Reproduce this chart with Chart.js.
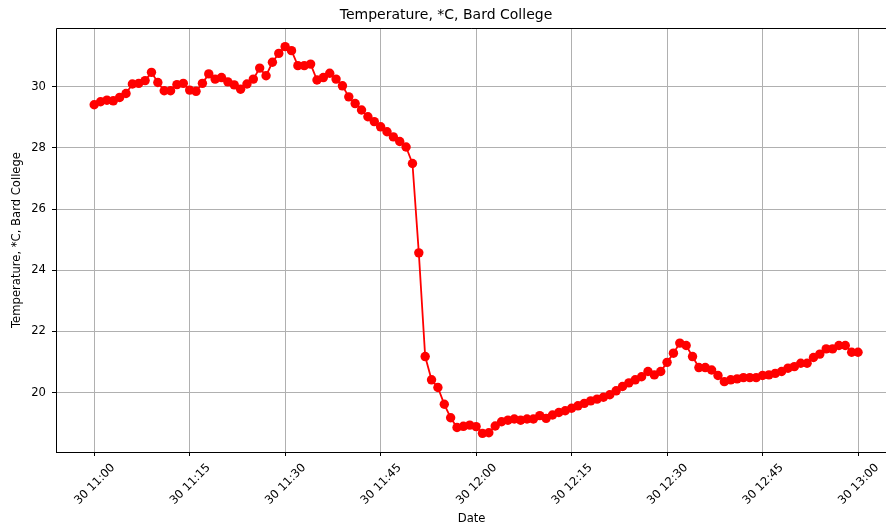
<!DOCTYPE html>
<html>
<head>
<meta charset="utf-8">
<script src="https://cdn.jsdelivr.net/npm/chart.js@4/dist/chart.umd.min.js"></script>
<style>
    html, body { margin: 0; padding: 0; background: #fff; overflow: hidden; }
    #wrap { width: 892px; height: 531px; position: relative; }
</style>
</head>
<body>
<div id="wrap"><canvas id="tempChart"></canvas></div>
<script>
// minutes after 11:00 on day 30
const minutes = [
    0, 1, 2, 3, 4, 5, 6, 7, 8, 9, 10, 11, 12, 13, 14, 15, 16, 17, 18, 19,
    20, 21, 22, 23, 24, 25, 26, 27, 28, 29, 30, 31, 32, 33, 34, 35, 36, 37, 38, 39,
    40, 41, 42, 43, 44, 45, 46, 47, 48, 49, 50, 51, 52, 53, 54, 55, 56, 57, 58, 59,
    60, 61, 62, 63, 64, 65, 66, 67, 68, 69, 70, 71, 72, 73, 74, 75, 76, 77, 78, 79,
    80, 81, 82, 83, 84, 85, 86, 87, 88, 89, 90, 91, 92, 93, 94, 95, 96, 97, 98, 99,
    100, 101, 102, 103, 104, 105, 106, 107, 108, 109, 110, 111, 112, 113, 114, 115, 116, 117, 118, 119,
    120
];

// temperature readings, *C
const temps = [
    29.41, 29.51, 29.56, 29.54, 29.65, 29.78, 30.09, 30.11, 30.20, 30.47,
    30.14, 29.87, 29.87, 30.07, 30.11, 29.89, 29.85, 30.11, 30.42, 30.25,
    30.30, 30.16, 30.06, 29.92, 30.09, 30.25, 30.61, 30.36, 30.80, 31.09,
    31.31, 31.18, 30.69, 30.69, 30.74, 30.22, 30.30, 30.44, 30.25, 30.03,
    29.67, 29.45, 29.24, 29.02, 28.86, 28.69, 28.53, 28.36, 28.21, 28.03,
    27.49, 24.57, 21.18, 20.42, 20.17, 19.62, 19.18, 18.86, 18.90, 18.94,
    18.89, 18.67, 18.69, 18.91, 19.05, 19.10, 19.14, 19.10, 19.14, 19.14,
    19.25, 19.16, 19.27, 19.35, 19.41, 19.49, 19.57, 19.65, 19.73, 19.79,
    19.85, 19.93, 20.06, 20.20, 20.32, 20.42, 20.52, 20.69, 20.58, 20.69,
    20.99, 21.29, 21.62, 21.54, 21.18, 20.82, 20.82, 20.74, 20.56, 20.36,
    20.42, 20.45, 20.49, 20.49, 20.49, 20.56, 20.58, 20.63, 20.69, 20.80,
    20.85, 20.96, 20.96, 21.15, 21.26, 21.43, 21.43, 21.54, 21.54, 21.32,
    21.32
];

// tick positions and their labels
const xTicks = [0, 15, 30, 45, 60, 75, 90, 105, 120];
const xTickLabels = ['30 11:00', '30 11:15', '30 11:30', '30 11:45', '30 12:00',
    '30 12:15', '30 12:30', '30 12:45', '30 13:00'];
const yTicks = [20, 22, 24, 26, 28, 30];

const FONT = "'DejaVu Sans', sans-serif";

// top and left frame lines like matplotlib spines
const framePlugin = {
    id: 'frame',
    afterDraw(chart) {
        const { ctx, chartArea } = chart;
        ctx.save();
        ctx.strokeStyle = '#000';
        ctx.lineWidth = 1;
        ctx.beginPath();
        ctx.moveTo(chartArea.left + 0.5, chartArea.bottom + 0.5);
        ctx.lineTo(chartArea.left + 0.5, chartArea.top + 0.5);
        ctx.lineTo(chartArea.right, chartArea.top + 0.5);
        ctx.moveTo(chartArea.left, chartArea.bottom + 0.5);
        ctx.lineTo(chartArea.right, chartArea.bottom + 0.5);
        ctx.stroke();
        ctx.restore();
    }
};

const points = minutes.map((m, i) => ({ x: m, y: temps[i] }));

const ctx = document.getElementById('tempChart').getContext('2d');
new Chart(ctx, {
    type: 'line',
    data: {
        datasets: [{
            label: 'Temperature',
            data: points,
            borderColor: '#ff0000',
            backgroundColor: '#ff0000',
            borderWidth: 1.8,
            pointRadius: 4.7,
            pointBorderWidth: 0,
            pointBackgroundColor: '#ff0000',
            tension: 0
        }]
    },
    options: {
        responsive: true,
        maintainAspectRatio: false,
        animation: false,
        layout: { padding: 0 },
        plugins: {
            legend: { display: false },
            tooltip: { enabled: false },
            title: {
                display: true,
                text: 'Temperature, *C, Bard College',
                color: '#000',
                font: { family: FONT, size: 14, weight: 'normal' },
                padding: { top: 7, bottom: 4.2 }
            }
        },
        scales: {
            x: {
                type: 'linear',
                min: -6,
                max: 124.6,
                afterBuildTicks(scale) {
                    scale.ticks = xTicks.map(v => ({ value: v }));
                },
                afterFit(scale) { scale.height = 79; },
                ticks: {
                    autoSkip: false,
                    minRotation: 45,
                    maxRotation: 45,
                    padding: 5,
                    labelOffset: 19,
                    color: '#000',
                    font: { family: FONT, size: 11.6 },
                    callback: (v) => xTickLabels[xTicks.indexOf(v)]
                },
                grid: {
                    color: '#b0b0b0',
                    lineWidth: 1,
                    tickLength: 4,
                    tickColor: '#000'
                },
                border: { display: false },
                title: {
                    display: true,
                    text: 'Date',
                    color: '#000',
                    font: { family: FONT, size: 11.6 },
                    padding: { top: 0, bottom: 5 }
                }
            },
            y: {
                min: 18.06,
                max: 31.92,
                afterBuildTicks(scale) {
                    scale.ticks = yTicks.map(v => ({ value: v }));
                },
                afterFit(scale) { scale.width = 56; },
                ticks: {
                    padding: 6,
                    color: '#000',
                    font: { family: FONT, size: 11.6 }
                },
                grid: {
                    color: '#b0b0b0',
                    lineWidth: 1,
                    tickLength: 4,
                    tickColor: '#000'
                },
                border: { display: false },
                title: {
                    display: true,
                    text: 'Temperature, *C, Bard College',
                    color: '#000',
                    font: { family: FONT, size: 11.6 },
                    padding: { top: 10, bottom: 0 }
                }
            }
        }
    },
    plugins: [framePlugin]
});
</script>
</body>
</html>
